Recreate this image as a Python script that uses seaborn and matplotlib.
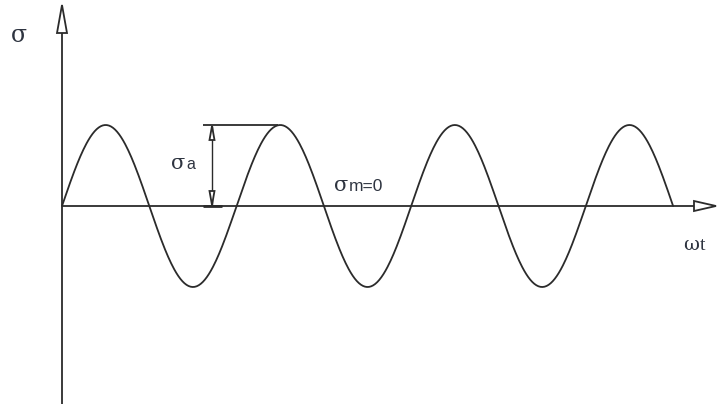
import numpy as np
import pandas as pd
import matplotlib.pyplot as plt
import seaborn as sns

# values
sigma_a = 1.0          # amplitude of the stress
sigma_m = 0.0          # mean stress
half_cycles = 7        # the wave runs 3.5 cycles
y_label = ("σ", "")
x_label = ("ω", "t")
amp_label = ("σ", "a")
mean_label = ("σ", "m=0")

# stress curve sigma = sigma_m + sigma_a * sin(wt)
wt = np.linspace(0, half_cycles * np.pi, 600)
df = pd.DataFrame({"wt": wt, "sigma": sigma_m + sigma_a * np.sin(wt)})

sns.set_style("white")
plt.rcParams['font.family'] = ['Liberation Sans', 'DejaVu Sans']

W, H = 717, 404
fig = plt.figure(figsize=(W / 100, H / 100), dpi=100)
ax = fig.add_axes([0, 0, 1, 1])

# pixel layout: origin at (62, 206), 1 rad = 27.8 px, sigma_a = 81 px
x0, y0, kx, ky = 62, 206, 174.6 / (2 * np.pi), 81
ax.set_xlim(-x0 / kx, (W - x0) / kx)
ax.set_ylim(-(H - y0) / ky, y0 / ky)
ax.axis("off")

def px(x, y):
    return (x - x0) / kx, (y0 - y) / ky

col = "#2b2b2b"
sns.lineplot(data=df, x="wt", y="sigma", color=col, lw=1.3, ax=ax)

# axes with hollow arrow heads
def line(p, q, lw=1.3):
    a, b = px(*p), px(*q)
    ax.plot([a[0], b[0]], [a[1], b[1]], color=col, lw=lw, solid_capstyle="butt")

def head(pts):
    xy = np.array([px(*p) for p in pts])
    ax.fill(xy[:, 0], xy[:, 1], facecolor="white", edgecolor=col, lw=1.3, zorder=5)

line((62, 404), (62, 30))
head([(62, 5), (57, 33), (67, 33)])
line((62, 206), (694, 206))
head([(716, 206), (694, 201), (694, 211)])

# amplitude marker
line((203, 125), (278, 125))
line((203, 206), (222, 206), lw=2)
line((212, 126), (212, 205), lw=1.0)
head([(212, 126), (209.5, 140), (214.5, 140)])
head([(212, 205), (209.5, 191), (214.5, 191)])

# labels: greek letter in a wide serif, suffix in sans right after it
tc = "#2e3440"
renderer = fig.canvas.get_renderer()
def label(x, y, parts, size, size2, fam2=None):
    t = ax.text(*px(x, y), parts[0], fontsize=size, ha="left", va="baseline",
                color=tc, family=['DejaVu Serif'])
    if parts[1]:
        bb = t.get_window_extent(renderer)
        ax.annotate(parts[1], xy=px(x, y), xytext=(bb.width * 72 / 100 + 0.5, 0),
                    textcoords="offset points", fontsize=size2, ha="left",
                    va="baseline", color=tc,
                    family=fam2 or ['Liberation Sans', 'DejaVu Sans'])

label(11, 42, y_label, 17, 17)
label(683, 250, x_label, 14, 14, ['Liberation Serif'])
label(171, 169, amp_label, 15, 11.5)
label(334, 191, mean_label, 15, 12.5)

fig.savefig("out.png", dpi=100)
